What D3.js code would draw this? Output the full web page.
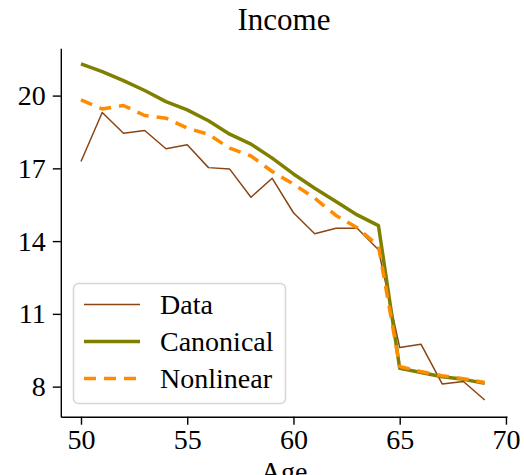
<!DOCTYPE html>
<html>
<head>
<meta charset="utf-8">
<script src="https://cdn.jsdelivr.net/npm/d3@7"></script>
<style>
  body { margin: 0; background: #fff; overflow: hidden; }
  text { font-family: "Liberation Serif", "DejaVu Serif", serif; fill: #000; }
</style>
</head>
<body>
<script>
// Income by age: observed data vs. two model fits

var ages = d3.range(50, 70); // 50 .. 69

var dataIncome = [17.28, 19.30, 18.45, 18.56, 17.81, 17.97, 17.03, 16.97, 15.81, 16.59,
                  15.17, 14.30, 14.53, 14.53, 13.64, 9.61, 9.75, 8.11, 8.21, 7.45];

var canonical = [21.31, 20.99, 20.62, 20.21, 19.75, 19.41, 18.96, 18.41, 18.00, 17.42,
                 16.77, 16.18, 15.63, 15.08, 14.64, 8.76, 8.58, 8.41, 8.30, 8.14];

var nonlinear = [19.82, 19.45, 19.59, 19.18, 19.07, 18.66, 18.40, 17.83, 17.51, 16.87,
                 16.35, 15.77, 15.06, 14.55, 13.80, 8.83, 8.62, 8.45, 8.33, 8.17];

var xTicks = [50, 55, 60, 65, 70],
    yTicks = [8, 11, 14, 17, 20];

var width = 524,
    height = 475;

var x = d3.scaleLinear().domain([49.05, 70.05]).range([60.8, 507]);
var y = d3.scaleLinear().domain([6.76, 21.95]).range([416.7, 48.3]);

var svg = d3.select("body").append("svg")
    .attr("width", width)
    .attr("height", height);

var series = [
  { name: "Data",      values: dataIncome, color: "#8b4513", width: 1.5, dash: null },
  { name: "Canonical", values: canonical,  color: "#808000", width: 3.5, dash: null },
  { name: "Nonlinear", values: nonlinear,  color: "#ff8c00", width: 3.5, dash: "12,8" }
];

var line = d3.line()
    .x(function(d, i) { return x(ages[i]); })
    .y(function(d) { return y(d); });

svg.selectAll("path.series")
    .data(series)
  .enter().append("path")
    .attr("class", "series")
    .attr("fill", "none")
    .attr("stroke", function(d) { return d.color; })
    .attr("stroke-width", function(d) { return d.width; })
    .attr("stroke-dasharray", function(d) { return d.dash; })
    .attr("stroke-linejoin", "round")
    .attr("d", function(d) { return line(d.values); });

// axes (left + bottom spines only)
var xAxis = svg.append("g")
    .attr("transform", "translate(0," + y.range()[0] + ")")
    .call(d3.axisBottom(x).tickValues(xTicks).tickSize(8).tickSizeOuter(0).tickPadding(4));

var yAxis = svg.append("g")
    .attr("transform", "translate(" + x.range()[0] + ",0)")
    .call(d3.axisLeft(y).tickValues(yTicks).tickSize(8).tickSizeOuter(0).tickPadding(7));

[xAxis, yAxis].forEach(function(g) {
  g.select(".domain").attr("stroke", "#000").attr("stroke-width", 1.4);
  g.selectAll(".tick line").attr("stroke", "#000").attr("stroke-width", 1.4);
  g.selectAll(".tick text")
      .attr("font-family", "Liberation Serif")
      .attr("font-size", 28)
      .attr("fill", "#000");
});

// title + axis label (label sits partly below the page edge, as in the original)
svg.append("text")
    .attr("x", 284)
    .attr("y", 30)
    .attr("text-anchor", "middle")
    .attr("font-size", 31)
    .text("Income");

svg.append("text")
    .attr("x", 284)
    .attr("y", 481)
    .attr("text-anchor", "middle")
    .attr("font-size", 28)
    .text("Age");

// legend
var legend = svg.append("g");

legend.append("rect")
    .attr("x", 73.5)
    .attr("y", 283.5)
    .attr("width", 212)
    .attr("height", 120)
    .attr("rx", 5)
    .attr("fill", "#fff")
    .attr("fill-opacity", 0.8)
    .attr("stroke", "#d6d6d6")
    .attr("stroke-width", 1.5);

var rows = legend.selectAll("g.row")
    .data(series)
  .enter().append("g")
    .attr("class", "row")
    .attr("transform", function(d, i) { return "translate(0," + (304.5 + i * 37) + ")"; });

rows.append("line")
    .attr("x1", 84)
    .attr("x2", 140)
    .attr("stroke", function(d) { return d.color; })
    .attr("stroke-width", function(d) { return d.width; })
    .attr("stroke-dasharray", function(d) { return d.dash; });

rows.append("text")
    .attr("x", 160)
    .attr("dy", "0.35em")
    .attr("font-size", 28)
    .text(function(d) { return d.name; });
</script>
</body>
</html>
